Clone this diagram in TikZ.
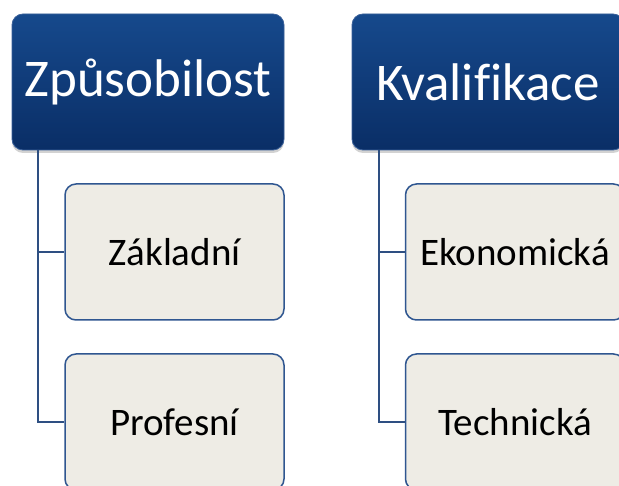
\documentclass[tikz,border=0pt]{standalone}
\usepackage{fontspec}
\setmainfont[Ligatures=NoCommon]{Carlito}
\usetikzlibrary{shadows,positioning}
\definecolor{hdtop}{HTML}{16498C}
\definecolor{hdbot}{HTML}{0A2E66}
\definecolor{hdborder}{HTML}{3A6099}
\definecolor{chfill}{HTML}{EEECE5}
\definecolor{chborder}{HTML}{2F5690}
\definecolor{conn}{HTML}{2E4F82}
\tikzset{
  header/.style={draw=hdborder, line width=0.8pt, top color=hdtop, bottom color=hdbot,
    rounded corners=11pt, minimum width=272pt, minimum height=136pt, inner sep=0pt,
    text=white, font=\fontsize{53}{58}\selectfont,
    drop shadow={shadow xshift=0pt, shadow yshift=-3pt, opacity=0.35}},
  child/.style={draw=chborder, line width=1.5pt, fill=chfill, rounded corners=11pt,
    minimum width=219pt, minimum height=136pt, inner sep=0pt,
    text=black, font=\fontsize{39}{44}\selectfont},
  link/.style={draw=conn, line width=1.8pt}
}
\begin{document}
\begin{tikzpicture}[x=1pt,y=1pt]
\clip (0,0) rectangle (619,-486);
\fill[white] (0,0) rectangle (619,-486);
\node[header] (h1) at (148,-82) {Způsobilost};
\node[header] (h2) at (488,-82) {Kvalifikace};
\node[child] (c1) at (174.5,-252) {Základní};
\node[child] (c2) at (174.5,-422) {Profesní};
\node[child] (c3) at (515,-252) {Ekonomická};
\node[child] (c4) at (515,-422) {Technická};
\draw[link] ([xshift=26pt]h1.south west) |- (c1.west);
\draw[link] ([xshift=26pt]h1.south west) |- (c2.west);
\draw[link] ([xshift=27pt]h2.south west) |- (c3.west);
\draw[link] ([xshift=27pt]h2.south west) |- (c4.west);
\end{tikzpicture}
\end{document}
